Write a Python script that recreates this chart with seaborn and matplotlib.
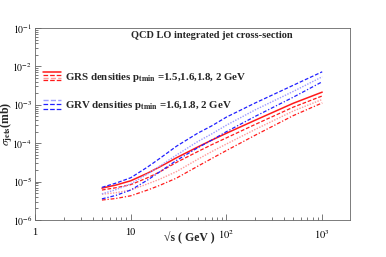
import numpy as np
import pandas as pd
import matplotlib
matplotlib.use("Agg")
import matplotlib.pyplot as plt
import seaborn as sns
from matplotlib.lines import Line2D
from matplotlib.legend_handler import HandlerBase
from matplotlib.ticker import FixedLocator, FixedFormatter, LogLocator, NullFormatter

# sqrt(s) in GeV
sqrt_s = [5, 7, 10, 15, 20, 30, 50, 70, 100, 200, 500, 1000]

# sigma_jets (mb), GRS densities, ptmin = 1.5, 1.6, 1.8, 2 GeV
grs_15 = [6.76e-6, 8.13e-6, 1.05e-5, 1.66e-5, 2.40e-5, 4.17e-5, 7.94e-5, 1.20e-4, 1.82e-4, 3.98e-4, 1.10e-3, 2.14e-3]
grs_16 = [6.03e-6, 6.92e-6, 8.32e-6, 1.26e-5, 1.78e-5, 3.16e-5, 6.03e-5, 9.12e-5, 1.38e-4, 3.09e-4, 8.71e-4, 1.70e-3]
grs_18 = [4.68e-6, 5.13e-6, 6.03e-6, 8.71e-6, 1.15e-5, 1.82e-5, 3.80e-5, 6.03e-5, 9.55e-5, 2.29e-4, 6.92e-4, 1.38e-3]
grs_20 = [3.31e-6, 3.63e-6, 4.27e-6, 6.03e-6, 7.94e-6, 1.23e-5, 2.51e-5, 3.98e-5, 6.46e-5, 1.62e-4, 5.25e-4, 1.12e-3]

# GRV densities, ptmin = 1.6, 1.8, 2 GeV
grv_16 = [7.08e-6, 9.12e-6, 1.26e-5, 2.40e-5, 3.98e-5, 8.32e-5, 1.82e-4, 2.82e-4, 4.79e-4, 1.12e-3, 3.24e-3, 7.24e-3]
grv_18 = [4.79e-6, 6.17e-6, 8.71e-6, 1.585e-5, 2.51e-5, 4.90e-5, 1.10e-4, 1.74e-4, 2.95e-4, 7.41e-4, 2.24e-3, 5.37e-3]
grv_20 = [3.55e-6, 4.37e-6, 6.03e-6, 1.10e-5, 1.78e-5, 3.55e-5, 7.59e-5, 1.20e-4, 2.00e-4, 5.01e-4, 1.585e-3, 3.98e-3]

x_ticks = [1, 10, 100, 1000]
x_ticklabels = ["1", "10", "$10^{2}$", "$10^{3}$"]
y_ticks = [1e-6, 1e-5, 1e-4, 1e-3, 1e-2, 1e-1]
y_ticklabels = ["$10^{-6}$", "$10^{-5}$", "$10^{-4}$", "$10^{-3}$", "$10^{-2}$", "$10^{-1}$"]

RED = "#ff1a1a"
PINK = "#ff9a9a"
BLUE = "#2020ff"
LBLUE = "#9c9cff"

curves = [
    ("GRS 1.5", grs_15, RED, "-", 1.1),
    ("GRS 1.6", grs_16, RED, (0, (3, 1.5)), 0.9),
    ("GRS 1.8", grs_18, PINK, (0, (1, 1)), 1.0),
    ("GRS 2", grs_20, RED, (0, (3, 1.5, 1, 1.5)), 0.9),
    ("GRV 1.6", grv_16, BLUE, (0, (3, 1.5)), 0.9),
    ("GRV 1.8", grv_18, LBLUE, (0, (1, 1)), 1.0),
    ("GRV 2", grv_20, BLUE, (0, (3, 1.5, 1, 1.5)), 0.9),
]


class StackHandler(HandlerBase):
    """draw several line styles stacked on top of each other"""
    def create_artists(self, legend, orig_handle, xdescent, ydescent,
                       width, height, fontsize, trans):
        n = len(orig_handle)
        artists = []
        for i, h in enumerate(orig_handle):
            y = height * (1.05 - 1.1 * i / max(n - 1, 1)) - ydescent
            l = Line2D([-xdescent, width - xdescent], [y, y],
                       color=h.get_color(), linestyle=h.get_linestyle(),
                       linewidth=h.get_linewidth())
            l.set_transform(trans)
            artists.append(l)
        return artists


sns.set_style("ticks")
plt.rcParams["font.family"] = ["Liberation Serif", "DejaVu Sans"]
plt.rcParams["mathtext.fontset"] = "stix"

fig = plt.figure(figsize=(3.86, 2.57), dpi=100)
ax = fig.add_axes([0.0907, 0.144, 0.816, 0.747])

lines = {}
for name, vals, color, ls, lw in curves:
    df = pd.DataFrame({"sqrt_s": sqrt_s, "sigma": vals})
    sns.lineplot(data=df, x="sqrt_s", y="sigma", ax=ax, color=color,
                 linestyle=ls, linewidth=lw, legend=False)
    lines[name] = ax.get_lines()[-1]

ax.set_xscale("log")
ax.set_yscale("log")
ax.set_xlim(1, 1950)
ax.set_ylim(1e-6, 1e-1)

ax.xaxis.set_major_locator(FixedLocator(x_ticks))
ax.xaxis.set_major_formatter(FixedFormatter(x_ticklabels))
ax.yaxis.set_major_locator(FixedLocator(y_ticks))
ax.yaxis.set_major_formatter(FixedFormatter(y_ticklabels))
ax.xaxis.set_minor_locator(LogLocator(base=10, subs=np.arange(2, 10)))
ax.yaxis.set_minor_locator(LogLocator(base=10, subs=np.arange(2, 10)))
ax.xaxis.set_minor_formatter(NullFormatter())
ax.yaxis.set_minor_formatter(NullFormatter())
ax.tick_params(which="both", direction="in", top=False, right=False,
               colors="#444444", labelcolor="black", width=0.5)
ax.tick_params(axis="x", which="major", pad=6, labelsize=7.5)
ax.tick_params(axis="y", which="major", pad=2, labelsize=7)
ax.tick_params(which="major", length=4)
ax.tick_params(which="minor", length=2)
for sp in ax.spines.values():
    sp.set_linewidth(0.6)
    sp.set_color("#666666")

ax.set_xlabel("√s ( GeV )", fontsize=8.5, fontweight="bold")
ax.xaxis.set_label_coords(0.49, -0.06)
ax.set_ylabel(r"$\sigma_{\mathbf{jets}}$(mb)", fontsize=8.5, fontweight="bold")
ax.yaxis.set_label_coords(-0.064, 0.5)
ax.text(0.56, 0.96, "QCD LO integrated jet cross-section", transform=ax.transAxes,
        ha="center", va="center", fontsize=7.5, fontweight="bold")

grs_handle = tuple(lines[k] for k in ["GRS 1.5", "GRS 1.6", "GRS 1.8", "GRS 2"])
grv_handle = tuple(lines[k] for k in ["GRV 1.8", "GRV 1.6", "GRV 2"])
leg = ax.legend([grs_handle, grv_handle],
                [r"GRS densities p$_{\mathbf{tmin}}$ =1.5,1.6,1.8, 2 GeV",
                 r"GRV densities p$_{\mathbf{tmin}}$ =1.6,1.8, 2 GeV"],
                handler_map={tuple: StackHandler()},
                loc="upper left", bbox_to_anchor=(0.0, 0.815), frameon=False,
                prop={"size": 7.8, "weight": "bold"}, handlelength=1.7,
                handletextpad=0.35, labelspacing=1.4, borderaxespad=0.3)

fig.savefig("out.png", dpi=100)
